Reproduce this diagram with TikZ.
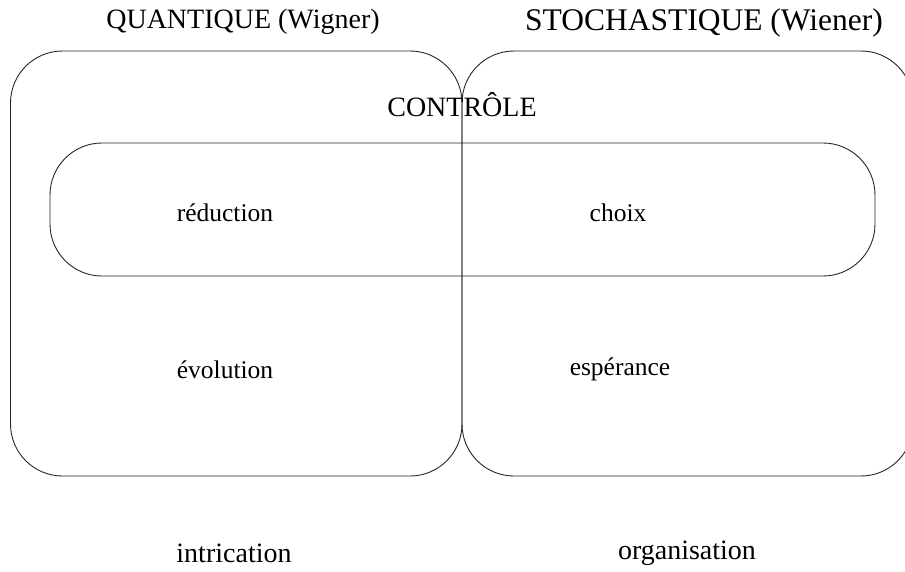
\documentclass[tikz,border=0pt]{standalone}
\usepackage{fontspec}
\setmainfont{Liberation Serif}
\tikzset{
  zone/.style={draw=black!85, line width=0.9pt, rounded corners=52pt, inner sep=0pt},
  titre/.style={font=\fontsize{28}{30}\selectfont},
  mot/.style={font=\fontsize{25.5}{27}\selectfont},
}
\begin{document}
\begin{tikzpicture}[x=1pt, y=-1pt]
\useasboundingbox (0,0) rectangle (905,571);

% les trois zones
\node[zone, minimum width=451.5pt, minimum height=425pt] (quant) at (236.25,263.5) {};
\node[zone, minimum width=451pt, minimum height=425pt] (stoch) at (687.5,263.5) {};
\node[zone, minimum width=825pt, minimum height=133pt] (ctrl) at (462.5,209.5) {};

% titres
\node[titre] (tq) at (243,22) {QUANTIQUE (Wigner)};
\node[titre, font=\fontsize{31.5}{33}\selectfont] (ts) at (704,23) {STOCHASTIQUE (Wiener)};
\node[titre] (tc) at (462,105) {CONTRÔLE};

\node[mot] (red) at (225,213) {réduction};
\node[mot] (cho) at (618,213) {choix};
\node[mot] (evo) at (225,370) {évolution};
\node[mot] (esp) at (620,369) {espérance};

\node[titre] (intr) at (234,553) {intrication};
\node[titre] (orga) at (687,553) {organisation};
\end{tikzpicture}
\end{document}
